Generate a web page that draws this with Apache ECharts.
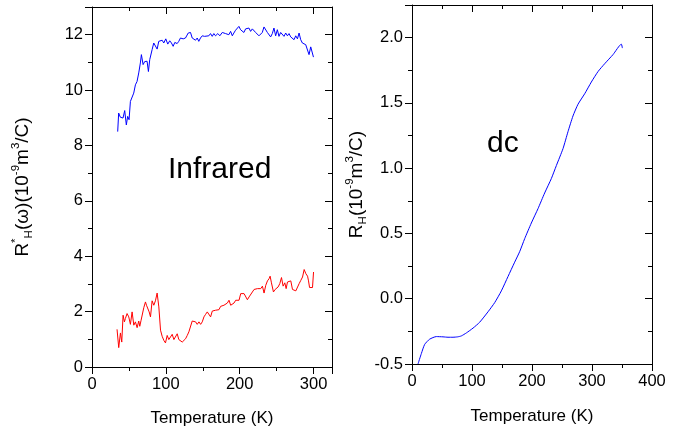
<!DOCTYPE html>
<html>
<head>
<meta charset="utf-8">
<script src="https://cdn.jsdelivr.net/npm/echarts@6/dist/echarts.min.js"></script>
<style>html,body{margin:0;padding:0;background:#fff}#c{width:682px;height:427px}</style>
</head>
<body>
<div id="c"></div>
<script>
// Infrared R*_H(omega), upper (blue) curve: [T (K), value]
const irBlue = [[34.8,8.50],[36.1,9.17],[38.4,9.02],[40.7,9.07],[42,8.99],[44.3,9.26],[46.5,8.74],[48.3,9.05],[50.2,8.93],[52,9.59],[54.3,9.65],[56.5,9.89],[58.8,10.19],[61,10.31],[63.3,10.62],[65.5,10.98],[66.9,11.28],[69.2,10.92],[71.4,11.03],[73.2,10.98],[74.6,11.04],[76.4,10.67],[78.2,11.1],[80,11.16],[81.4,11.46],[83.6,11.7],[85.9,11.76],[88.2,11.48],[90.4,11.76],[92.7,11.7],[95,11.8],[97.2,11.7],[99.9,11.85],[102.6,11.66],[105.3,11.78],[107.6,11.7],[109.9,11.58],[112.1,11.72],[115.3,11.68],[117.5,11.76],[119.8,11.88],[123.5,11.85],[126.6,11.88],[128.9,11.82],[130.3,12.06],[133.4,12.08],[135.7,11.88],[137.9,11.85],[140.2,11.8],[142.5,11.88],[144.6,11.76],[146.9,11.88],[149.3,11.96],[152.4,11.94],[155.1,12.0],[158.2,11.96],[160.5,12.04],[162.8,11.94],[165,12.04],[167.3,11.96],[170.4,12.04],[173.1,11.96],[176.4,12.08],[178.6,12.12],[180.9,12.04],[183.2,12.08],[185.3,12.0],[187.7,12.12],[190,11.96],[192.1,12.06],[194.4,12.16],[196.7,12.12],[198.9,12.3],[201.2,12.18],[203.5,12.24],[205.7,12.08],[208,12.21],[210.3,12.16],[212.5,12.24],[214.8,12.12],[217.1,12.21],[219.3,12.18],[221.6,12.08],[223.9,12.06],[226.1,11.96],[228.4,11.92],[230.6,12.08],[232.9,12.28],[235.1,12.24],[237.5,12.08],[239.6,12.12],[241.9,11.92],[244.2,12.04],[246.4,12.24],[248.7,11.96],[251,12.18],[253.2,11.94],[255.5,12.08],[257.8,12.04],[260,11.94],[262.3,12.06],[264.6,11.96],[266.8,12.04],[269.1,11.92],[271.4,11.94],[273.6,11.82],[275.9,11.96],[278.2,11.85],[280.4,12.06],[282.6,11.82],[284.9,11.7],[287.1,11.72],[289.4,11.64],[291.7,11.7],[293.9,11.28],[296.2,11.56],[298.5,11.52],[299.9,11.19]];

// Infrared, lower (red) curve: [T (K), value]
const irRed = [[33.9,1.36],[36.2,0.70],[38.5,1.23],[40.3,0.90],[42.1,1.87],[43.9,1.63],[45.2,1.75],[47.5,1.93],[49.8,1.81],[52,1.54],[54.3,1.99],[56.6,1.51],[58.8,1.63],[61.1,1.42],[63.3,1.66],[64.7,1.47],[66.5,1.69],[68.3,1.63],[70.1,2.14],[72.4,2.35],[73.8,2.23],[75.6,2.29],[77.4,1.99],[79.2,1.81],[81.4,2.39],[83.7,2.23],[85.9,2.39],[88.2,2.67],[90.5,2.17],[92.8,1.33],[95,1.11],[97.3,0.96],[99.5,0.87],[101.8,1.14],[104,0.99],[106.3,1.02],[108.6,1.18],[110.9,0.99],[113.1,1.06],[115.4,1.20],[117.6,0.99],[119.9,1.06],[122.2,0.90],[124.4,0.94],[126.7,1.02],[129,1.14],[131.2,1.27],[133.5,1.33],[135.7,1.66],[138,1.63],[140.3,1.63],[142.5,1.54],[144.8,1.63],[147.1,1.54],[149.3,1.63],[151.6,1.81],[153.8,1.90],[156.1,1.99],[158.4,1.93],[160.6,1.81],[162.9,2.02],[165.2,2.07],[167.4,2.05],[169.7,2.11],[171.9,2.07],[174.2,2.19],[176.5,2.14],[178.7,2.23],[181,2.19],[183.3,2.31],[185.5,2.41],[187.8,2.23],[190,2.19],[192.3,2.31],[194.6,2.41],[196.8,2.39],[199.1,2.41],[201.4,2.65],[203.6,2.63],[205.9,2.65],[208.1,2.63],[210.4,2.43],[212.7,2.53],[214.9,2.55],[217.2,2.71],[219.5,2.80],[221.7,2.75],[224,2.83],[226.2,2.89],[228.5,2.83],[230.8,2.92],[233,2.67],[235.3,2.95],[237.6,3.11],[239.8,3.19],[241.2,3.28],[243,3.04],[245.7,2.71],[248,2.80],[250.2,2.80],[252,2.89],[254.3,3.01],[256.6,3.23],[258.8,2.92],[261.1,3.04],[262.9,2.83],[264.7,3.07],[267,3.01],[269.2,3.11],[271.5,2.80],[273.8,2.77],[276,2.75],[278.3,2.80],[280.5,3.01],[282.8,3.13],[285.1,3.25],[287.3,3.52],[289.6,3.37],[291.9,3.28],[293.2,3.11],[294.6,2.87],[296.4,2.89],[298.6,2.87],[300,3.43]];

// dc R_H: [T (K), value]
const dcData = [[10,-0.5],[15.6,-0.42],[21.1,-0.35],[29.4,-0.31],[40.6,-0.29],[51.7,-0.292],[60,-0.295],[68.3,-0.295],[76,-0.292],[82.2,-0.285],[90.6,-0.262],[101.7,-0.225],[112.8,-0.18],[126.7,-0.10],[137.8,-0.03],[148.9,0.06],[160,0.17],[171.1,0.28],[179.4,0.36],[187.8,0.46],[198.9,0.58],[210,0.69],[221.1,0.81],[232.2,0.92],[240.6,1.02],[251.7,1.15],[260,1.28],[268.3,1.40],[276.7,1.49],[287.8,1.57],[298.9,1.66],[310,1.74],[321.1,1.80],[335,1.87],[348.9,1.95],[350.6,1.92]];

const leftXTicks = {min: 0, max: 325, interval: 100};
const leftYTicks = {min: 0, max: 13, interval: 2};
const rightXTicks = {min: 0, max: 400, interval: 100};
const rightYTicks = {min: -0.5, max: 2.25, interval: 0.5};

const FONT = 'Liberation Sans, Arial, sans-serif';
const BLACK = '#000';

function axis(kind, grid, pos, ticks, opts) {
  const main = opts.main;
  const a = {
    type: 'value', gridIndex: grid, position: pos,
    min: ticks.min, max: ticks.max, interval: ticks.interval,
    axisLine: {show: true, onZero: false, lineStyle: {color: BLACK, width: 1}},
    axisTick: {show: true, inside: !main, length: 7, lineStyle: {color: BLACK, width: 1}},
    minorTick: {show: true, splitNumber: 2, length: 4, lineStyle: {color: BLACK, width: 1}},
    splitLine: {show: false},
    axisLabel: {show: main, color: BLACK, fontSize: 16.5, fontFamily: FONT, margin: 9,
      showMaxLabel: opts.showMax !== false, showMinLabel: true,
      formatter: opts.fmt || null}
  };
  if (opts.name) {
    a.name = opts.name;
    a.nameLocation = 'middle';
    a.nameGap = opts.nameGap;
    a.nameRotate = opts.nameRotate;
    a.nameTextStyle = Object.assign({color: BLACK, fontSize: 17, fontFamily: FONT}, opts.nameStyle || {});
  }
  return a;
}

const supS = {fontSize: 11.5, fontFamily: FONT, color: BLACK, verticalAlign: 'top', lineHeight: 11};
const subS = {fontSize: 11.5, fontFamily: FONT, color: BLACK, verticalAlign: 'bottom', lineHeight: 11};

const option = {
  animation: false,
  backgroundColor: '#fff',
  grid: [
    {left: 92, top: 7, width: 240, height: 360, containLabel: false, outerBoundsMode: 'none'},
    {left: 412, top: 5, width: 240, height: 359, containLabel: false, outerBoundsMode: 'none'}
  ],
  xAxis: [
    axis('x', 0, 'bottom', leftXTicks, {main: true, showMax: false, name: 'Temperature (K)', nameGap: 43}),
    axis('x', 0, 'top', leftXTicks, {main: false}),
    axis('x', 1, 'bottom', rightXTicks, {main: true, name: 'Temperature (K)', nameGap: 44}),
    axis('x', 1, 'top', rightXTicks, {main: false})
  ],
  yAxis: [
    axis('y', 0, 'left', leftYTicks, {main: true, showMax: false,
      name: 'R{sup|*}{sub|H}(ω)(10{sup|-9}m{sup|3}/C)', nameGap: 57, nameRotate: 90,
      nameStyle: {fontSize: 19, lineHeight: 25, rich: {sup: supS, sub: subS}}}),
    axis('y', 0, 'right', leftYTicks, {main: false}),
    axis('y', 1, 'left', rightYTicks, {main: true, showMax: false,
      fmt: function (v) { return v.toFixed(1); },
      name: 'R{sub|H}(10{sup|-9}m{sup|3}/C)', nameGap: 43, nameRotate: 90,
      nameStyle: {fontSize: 19, lineHeight: 25, rich: {sup: supS, sub: subS}}}),
    axis('y', 1, 'right', rightYTicks, {main: false})
  ],
  series: [
    {type: 'line', xAxisIndex: 0, yAxisIndex: 0, data: irBlue, showSymbol: false,
      lineStyle: {color: '#0000ff', width: 1}, itemStyle: {color: '#0000ff'}},
    {type: 'line', xAxisIndex: 0, yAxisIndex: 0, data: irRed, showSymbol: false,
      lineStyle: {color: '#ff0000', width: 1}, itemStyle: {color: '#ff0000'}},
    {type: 'line', xAxisIndex: 2, yAxisIndex: 2, data: dcData, showSymbol: false, smooth: 0.2,
      lineStyle: {color: '#0000ff', width: 1}, itemStyle: {color: '#0000ff'}}
  ],
  graphic: [
    {type: 'text', left: 168, top: 155, style: {text: 'Infrared', font: '30px ' + FONT, fill: BLACK}},
    {type: 'text', left: 487, top: 129, style: {text: 'dc', font: '30px ' + FONT, fill: BLACK}}
  ]
};

const chart = echarts.init(document.getElementById('c'), null, {renderer: 'canvas'});
chart.setOption(option);
</script>
</body>
</html>
